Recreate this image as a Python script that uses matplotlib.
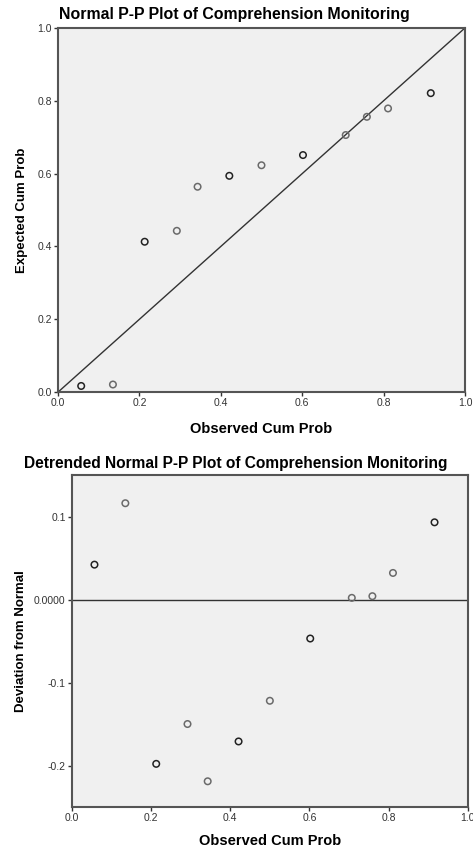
import numpy as np
import matplotlib.pyplot as plt
from matplotlib.ticker import FixedLocator, FixedFormatter

plt.rcParams["font.family"] = ["Liberation Sans", "DejaVu Sans"]

# Normal P-P values
observed = [0.057, 0.135, 0.213, 0.292, 0.343, 0.421, 0.500, 0.602, 0.707, 0.759, 0.811, 0.916]
expected = [0.017, 0.021, 0.413, 0.443, 0.564, 0.594, 0.623, 0.651, 0.706, 0.756, 0.779, 0.821]
# detrended deviations (observed - expected as plotted)
deviation = [0.042, 0.116, -0.198, -0.150, -0.219, -0.171, -0.122, -0.047, 0.002, 0.004, 0.032, 0.093]
# points that look drawn twice (darker rings)
repeats = [2, 1, 2, 1, 1, 2, 1, 2, 1, 1, 1, 2]

x_ticks = [0.0, 0.2, 0.4, 0.6, 0.8, 1.0]
x_labels = ["0.0", "0.2", "0.4", "0.6", "0.8", "1.0"]
y1_ticks = [0.0, 0.2, 0.4, 0.6, 0.8, 1.0]
y1_labels = ["0.0", "0.2", "0.4", "0.6", "0.8", "1.0"]
y2_ticks = [-0.2, -0.1, 0.0, 0.1]
y2_labels = ["-0.2", "-0.1", "0.0000", "0.1"]

edge = ["#222222" if r > 1 else "#6a6a6a" for r in repeats]
panel_bg = "#f0f0f0"
frame = "#555555"

fig = plt.figure(figsize=(4.73, 8.47), dpi=100)


def style_axes(ax):
    ax.set_facecolor(panel_bg)
    for s in ax.spines.values():
        s.set_color(frame)
        s.set_linewidth(1.5)
    ax.tick_params(axis="both", direction="out", length=3, width=1,
                   color="#333333", labelsize=7.5, labelcolor="#333333", pad=1.5)


# Top: Normal P-P plot
ax1 = fig.add_axes([0.1226, 0.537, 0.8604, 0.430])
style_axes(ax1)
ax1.plot([0, 1], [0, 1], color="#333333", linewidth=1.0, zorder=2)
ax1.scatter(observed, expected, s=22, facecolors="none", edgecolors=edge,
            linewidths=1.1, zorder=3)
ax1.set_xlim(0, 1)
ax1.set_ylim(0, 1)
ax1.xaxis.set_major_locator(FixedLocator(x_ticks))
ax1.xaxis.set_major_formatter(FixedFormatter(x_labels))
ax1.yaxis.set_major_locator(FixedLocator(y1_ticks))
ax1.yaxis.set_major_formatter(FixedFormatter(y1_labels))
ax1.set_xlabel("Observed Cum Prob", fontsize=10.5, fontweight="bold", labelpad=10)
ax1.set_ylabel("Expected Cum Prob", fontsize=9.5, fontweight="bold", labelpad=7)
fig.text(0.495, 0.983, "Normal P-P Plot of Comprehension Monitoring",
         ha="center", va="center", fontsize=11.4, fontweight="bold")

# Bottom: detrended plot
ax2 = fig.add_axes([0.152, 0.0472, 0.837, 0.392])
style_axes(ax2)
ax2.axhline(0, color="#333333", linewidth=1.0, zorder=2)
ax2.scatter(observed, deviation, s=22, facecolors="none", edgecolors=edge,
            linewidths=1.1, zorder=3)
ax2.set_xlim(0, 1)
ax2.set_ylim(-0.25, 0.15)
ax2.xaxis.set_major_locator(FixedLocator(x_ticks))
ax2.xaxis.set_major_formatter(FixedFormatter(x_labels))
ax2.yaxis.set_major_locator(FixedLocator(y2_ticks))
ax2.yaxis.set_major_formatter(FixedFormatter(y2_labels))
ax2.set_xlabel("Observed Cum Prob", fontsize=10.5, fontweight="bold", labelpad=8)
ax2.set_ylabel("Deviation from Normal", fontsize=9.5, fontweight="bold", labelpad=5)
fig.text(0.499, 0.453, "Detrended Normal P-P Plot of Comprehension Monitoring",
         ha="center", va="center", fontsize=11.2, fontweight="bold")

fig.savefig("out.png", dpi=100)
